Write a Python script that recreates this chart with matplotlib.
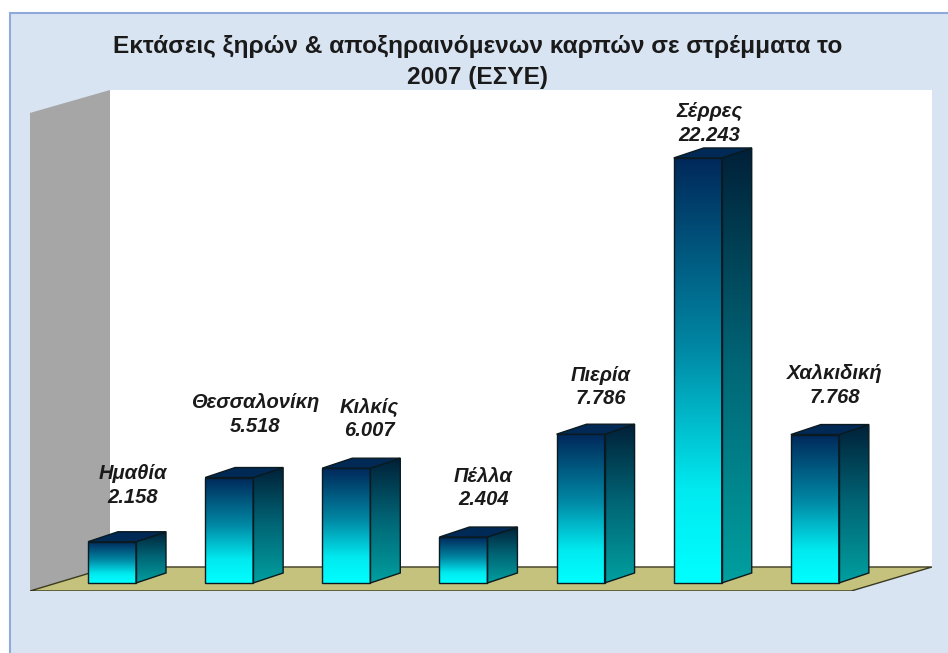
import numpy as np
import matplotlib.pyplot as plt
from matplotlib.colors import LinearSegmentedColormap
from matplotlib.patches import Polygon, Rectangle

plt.rcParams['font.family'] = ['Liberation Sans', 'DejaVu Sans']

# data (στρέμματα, ΕΣΥΕ 2007)
regions = ['Ημαθία', 'Θεσσαλονίκη', 'Κιλκίς', 'Πέλλα', 'Πιερία', 'Σέρρες', 'Χαλκιδική']
stremmata = [2158, 5518, 6007, 2404, 7786, 22243, 7768]
title = 'Εκτάσεις ξηρών & αποξηραινόμενων καρπών σε στρέμματα το\n2007 (ΕΣΥΕ)'

# label offsets in pixels from the top centre of each bar front
label_off = [(21, 39), (26, 46), (23, 32), (20, 32), (20, 30), (12, 17), (20, 32)]

W, H = 948, 653
fig = plt.figure(figsize=(W / 100, H / 100), dpi=100, facecolor='white')

# light blue panel with border
fig.patches.append(Rectangle((10 / W, -0.1), 1.0, 1.1 - 13 / H, transform=fig.transFigure,
                             facecolor='#d9e4f2', edgecolor='#8eaadb', lw=1.5, zorder=-5))

fig.text(478 / W, 1 - 62 / H, title, ha='center', va='center', fontsize=17.6,
         fontweight='bold', color='#1a1a1a', linespacing=1.4)

ax = fig.add_axes([30 / W, 1 - 591 / H, 902 / W, 501 / H])
ax.set_axis_off()
xmin, xmax = -0.70, 7.00
ymin, ymax = -420, 25800
wall_x, floor_y = -0.017, 837
hw = 0.205          # half width of bar front
dx, dy = 0.256, 523  # depth of the 3d effect

# walls and floor
ax.add_patch(Polygon([(xmin, ymin), (wall_x, floor_y), (wall_x, ymax), (xmin, 24600)],
                     closed=True, facecolor='#a6a6a6', edgecolor='none', zorder=0))
ax.add_patch(Rectangle((wall_x, floor_y), xmax - wall_x, ymax - floor_y,
                       facecolor='white', edgecolor='none', zorder=0))
ax.add_patch(Polygon([(xmin, ymin), (6.31, ymin), (xmax, floor_y), (wall_x, floor_y)],
                     closed=True, facecolor='#c4c27c', edgecolor='#3a3a20', lw=1, zorder=1))

front_cmap = LinearSegmentedColormap.from_list(
    'front', [(0, '#00ffff'), (0.22, '#00eaf0'), (0.55, '#0088a4'), (1, '#00285a')])
side_cmap = LinearSegmentedColormap.from_list(
    'side', [(0, '#00a0a0'), (0.5, '#006676'), (1, '#002038')])
edge = '#0a1a20'
grad = np.linspace(0, 1, 256).reshape(-1, 1)

for i, (name, v) in enumerate(zip(regions, stremmata)):
    x0, x1 = i - hw, i + hw
    ax.imshow(grad, extent=(x0, x1, 0, v), origin='lower', cmap=front_cmap,
              aspect='auto', zorder=3)
    ax.add_patch(Rectangle((x0, 0), x1 - x0, v, fill=False, edgecolor=edge, lw=1, zorder=4))
    side = Polygon([(x1, 0), (x1 + dx, dy), (x1 + dx, v + dy), (x1, v)], closed=True,
                   facecolor='none', edgecolor=edge, lw=1, zorder=4)
    ax.add_patch(side)
    im = ax.imshow(grad, extent=(x1, x1 + dx, 0, v + dy), origin='lower', cmap=side_cmap,
                   aspect='auto', zorder=3)
    im.set_clip_path(side)
    ax.add_patch(Polygon([(x0, v), (x1, v), (x1 + dx, v + dy), (x0 + dx, v + dy)], closed=True,
                         facecolor='#002a55', edgecolor=edge, lw=1, zorder=4))
    txt = name + '\n' + f'{v:,}'.replace(',', '.')
    ax.annotate(txt, xy=(i, v), xytext=label_off[i], textcoords='offset pixels',
                ha='center', va='baseline', fontsize=14.5, fontweight='bold',
                fontstyle='italic', color='#1a1a1a', linespacing=1.3)

ax.set_xlim(xmin, xmax)
ax.set_ylim(ymin, ymax)

fig.savefig('out.png', dpi=100, facecolor=fig.get_facecolor())
